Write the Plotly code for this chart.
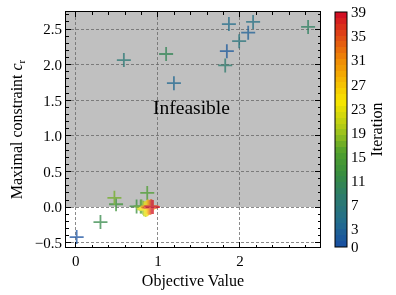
import plotly.graph_objects as go
import numpy as np

# ---- data ----
iteration = list(range(40))
objective = [0.01, 1.84, 2.10, 1.195, 1.865, 2.16, 1.99, 0.585, 1.82, 2.83,
             1.10, 0.30, 0.74, 0.49, 0.79, 0.87, 0.80, 0.47, 0.82, 0.84,
             0.83, 0.85, 0.86, 0.84, 0.87, 0.86, 0.88, 0.87, 0.89, 0.88,
             0.90, 0.89, 0.91, 0.90, 0.92, 0.91, 0.93, 0.92, 0.94, 0.93]
constraint = [-0.42, 2.19, 2.45, 1.74, 2.57, 2.60, 2.33, 2.065, 1.99, 2.53,
              2.15, -0.21, 0.01, 0.04, 0.01, 0.20, 0.01, 0.13, -0.01, -0.02,
              -0.03, -0.04, -0.03, -0.02, -0.03, -0.01, -0.02, 0.00, -0.01, 0.01,
              0.00, -0.01, 0.01, 0.00, 0.01, -0.01, 0.00, 0.01, 0.00, 0.00]
cbar_ticks = [0, 3, 7, 11, 15, 19, 23, 27, 31, 35, 39]

# ---- colormap (discrete steps) ----
anchors = [(0.0, (26, 82, 160)), (0.1, (35, 110, 140)), (0.2, (44, 122, 110)),
           (0.3, (55, 140, 65)), (0.4, (80, 160, 45)), (0.5, (170, 200, 25)),
           (0.62, (248, 230, 0)), (0.8, (240, 140, 5)), (1.0, (210, 16, 35))]
def cmap(t):
    for (t0, c0), (t1, c1) in zip(anchors[:-1], anchors[1:]):
        if t <= t1:
            f = (t - t0) / (t1 - t0)
            return tuple(int(round(a + (b - a) * f)) for a, b in zip(c0, c1))
    return anchors[-1][1]
nsteps = 40
cs = []
for i in range(nsteps):
    c = cmap(i / (nsteps - 1))
    col = "rgb(%d,%d,%d)" % c
    cs.append([i / nsteps, col])
    cs.append([(i + 1) / nsteps, col])

font_family = "Liberation Serif"

fig = go.Figure()
fig.add_trace(go.Scatter(
    x=objective, y=constraint, mode="markers", opacity=0.75,
    marker=dict(symbol="cross-thin", size=10, color=iteration, colorscale=cs,
                cmin=0, cmax=39, showscale=True,
                line=dict(width=1.8, color=iteration, colorscale=cs, cmin=0, cmax=39),
                colorbar=dict(thickness=12, len=1, lenmode="fraction", x=1.059,
                              xanchor="left", xpad=0, y=0.5, yanchor="middle", ypad=0,
                              outlinecolor="black", outlinewidth=1,
                              tickvals=cbar_ticks, ticks="",
                              tickfont=dict(family=font_family, size=15, color="black"),
                              title=dict(text="Iteration", side="right",
                                         font=dict(family=font_family, size=16, color="black")))),
    showlegend=False))

fig.add_shape(type="rect", xref="paper", yref="y", x0=0, x1=1, y0=0, y1=2.74,
              fillcolor="#c0c0c0", line=dict(width=0), layer="below")

fig.add_annotation(x=1.41, y=1.40, text="Infeasible", showarrow=False,
                   font=dict(family=font_family, size=19.5, color="black"))

axis_common = dict(showline=True, linecolor="black", linewidth=1, mirror="allticks",
                   ticks="inside", ticklen=5, tickcolor="black", tickwidth=1,
                   showgrid=True, gridcolor="rgba(100,100,100,0.75)", griddash="3px,2px", gridwidth=1,
                   zeroline=False, tickmode="linear",
                   tickfont=dict(family=font_family, size=15, color="black"))

fig.update_xaxes(range=[-0.12, 2.975], tick0=0, dtick=1, **axis_common,
                 minor=dict(ticks="inside", ticklen=2.5, tickcolor="black", dtick=0.2, showgrid=False),
                 title=dict(text="Objective Value", standoff=6,
                            font=dict(family=font_family, size=16, color="black")))
fig.update_yaxes(range=[-0.56, 2.74], tick0=0, dtick=0.5, tickformat=".1f", **axis_common,
                 minor=dict(ticks="inside", ticklen=2.5, tickcolor="black", dtick=0.1, showgrid=False),
                 title=dict(text="Maximal constraint <i>c</i><sub>r</sub>", standoff=8,
                            font=dict(family=font_family, size=16, color="black")))

fig.update_layout(width=396, height=295,
                  margin=dict(l=66, r=76, t=12, b=48, autoexpand=False),
                  plot_bgcolor="white", paper_bgcolor="white",
                  font=dict(family=font_family, color="black"))

fig.write_html("out.html", config={"displayModeBar": False},
               post_script="document.body.style.margin='0';document.body.style.overflow='hidden';")
